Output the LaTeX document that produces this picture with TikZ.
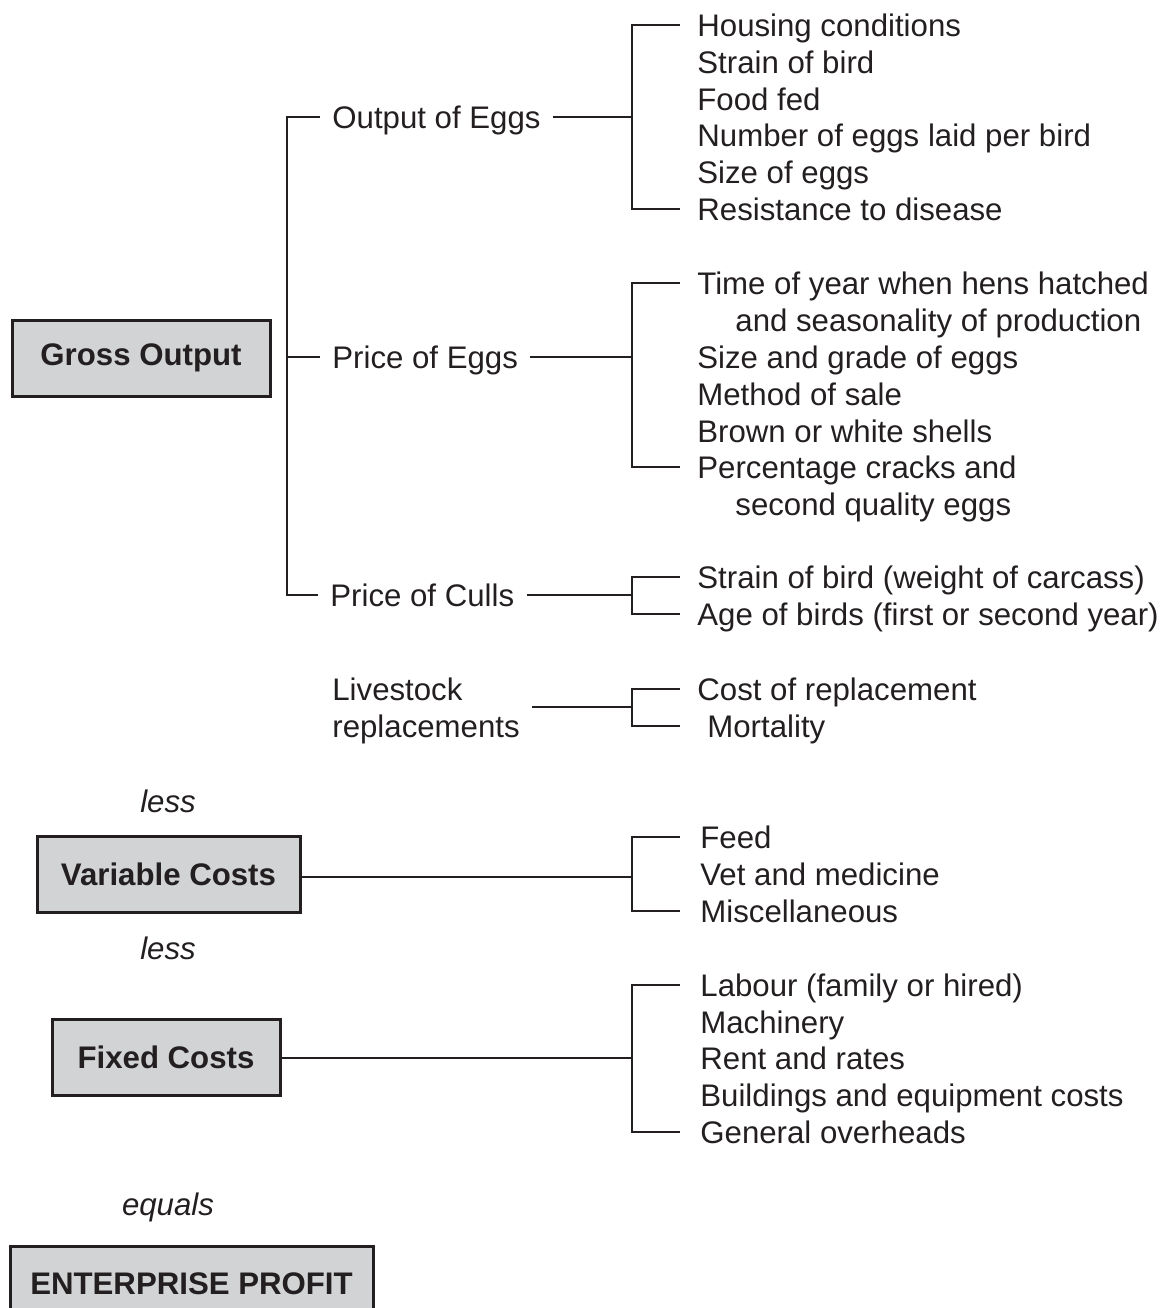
\documentclass[tikz,border=0pt]{standalone}
\usepackage{fontspec}
\setmainfont{Liberation Sans}
\usetikzlibrary{positioning}
\definecolor{boxgray}{HTML}{D1D3D4}
\definecolor{ink}{HTML}{231F20}
\newcommand{\diagfont}{\fontsize{15.6}{18.5}\selectfont}
\tikzset{
  total/.style={draw=ink, fill=boxgray, line width=1.5pt, text=ink,
    font=\diagfont\bfseries, minimum height=38pt, inner sep=0pt},
  heading/.style={anchor=west, text=ink, font=\diagfont, inner xsep=6pt,
    inner ysep=0pt},
  factor/.style={heading, text height=11pt, text depth=0pt},
  item/.style={factor, inner xsep=8.5pt},
  costitem/.style={factor, inner xsep=10pt},
  connective/.style={text=ink, font=\diagfont\itshape},
  joiner/.style={draw=ink, line width=1.4pt},
  thinjoiner/.style={draw=ink, line width=0.7pt}
}
\begin{document}
\begin{tikzpicture}[x=0.5pt, y=-0.5pt]
  \useasboundingbox (0,0) rectangle (1172,1308);
  \node[total, minimum width=129pt] (gross) at (141,358) {Gross Output};
  \node[factor] (oeggs) at (320,117) {Output of Eggs};
  \node[factor] (peggs) at (320,357) {Price of Eggs};
  \node[factor] (culls) at (318,595) {Price of Culls};
  \node[heading, align=left] (stock) at (320,711) {Livestock\\replacements};
  \coordinate (trunk) at (287,357);
  \coordinate (oeb) at (632,117);
  \coordinate (peb) at (632,357);
  \coordinate (pcb) at (632,595);
  \coordinate (lrb) at (632,707);
  \node[item] (oe1) at (680,25) {Housing conditions};
  \node[item] (oe2) at (680,62) {Strain of bird};
  \node[item] (oe3) at (680,99) {Food fed};
  \node[item] (oe4) at (680,135) {Number of eggs laid per bird};
  \node[item] (oe5) at (680,172) {Size of eggs};
  \node[item] (oe6) at (680,209) {Resistance to disease};
  \node[item] (pe1) at (680,283) {Time of year when hens hatched};
  \node[item] (pe1b) at (718,320) {and seasonality of production};
  \node[item] (pe2) at (680,357) {Size and grade of eggs};
  \node[item] (pe3) at (680,394) {Method of sale};
  \node[item] (pe4) at (680,431) {Brown or white shells};
  \node[item] (pe5) at (680,467) {Percentage cracks and};
  \node[item] (pe5b) at (718,504) {second quality eggs};
  \node[item] (pc1) at (680,577) {Strain of bird (weight of carcass)};
  \node[item] (pc2) at (680,614) {Age of birds (first or second year)};
  \node[item] (lr1) at (680,689) {Cost of replacement};
  \node[item] (lr2) at (680,726) {\hspace{5pt}Mortality};
  \draw[joiner] (oeggs.west) -| (trunk) |- (culls.west);
  \draw[joiner] (trunk) -- (peggs.west);
  \draw[joiner] (oeggs.east) -- (oeb);
  \draw[joiner] (oe1.west) -| (oeb) |- (oe6.west);
  \draw[joiner] (peggs.east) -- (peb);
  \draw[joiner] (pe1.west) -| (peb) |- (pe5.west);
  \draw[joiner] (culls.east) -- (pcb);
  \draw[joiner] (pc1.west) -| (pcb) |- (pc2.west);
  \draw[thinjoiner] (stock.east |- lrb) -- (lrb);
  \draw[thinjoiner] (lr1.west) -| (lrb) |- (lr2.west);
  \node[connective] (less1) at (168,801) {less};
  \node[total, minimum width=131.5pt] (varc) at (168.5,874.5) {Variable Costs};
  \coordinate (vcb) at (632,877);
  \node[costitem] (vc1) at (680,837) {Feed};
  \node[costitem] (vc2) at (680,874) {Vet and medicine};
  \node[costitem] (vc3) at (680,911) {Miscellaneous};
  \draw[thinjoiner] (varc.east |- vcb) -- (vcb);
  \draw[thinjoiner] (vc1.west) -| (vcb) |- (vc3.west);
  \node[connective] (less2) at (168,948) {less};
  \node[total, minimum width=114pt] (fixc) at (166,1057.5) {Fixed Costs};
  \coordinate (fcb) at (632,1058);
  \node[costitem] (fc1) at (680,985) {Labour (family or hired)};
  \node[costitem] (fc2) at (680,1022) {Machinery};
  \node[costitem] (fc3) at (680,1058) {Rent and rates};
  \node[costitem] (fc4) at (680,1095) {Buildings and equipment costs};
  \node[costitem] (fc5) at (680,1132) {General overheads};
  \draw[thinjoiner] (fixc.east |- fcb) -- (fcb);
  \draw[thinjoiner] (fc1.west) -| (fcb) |- (fc5.west);
  \node[connective] (equals) at (168,1207) {equals};
  \node[total, minimum width=181.5pt] (profit) at (191.5,1284) {ENTERPRISE PROFIT};
\end{tikzpicture}
\end{document}
